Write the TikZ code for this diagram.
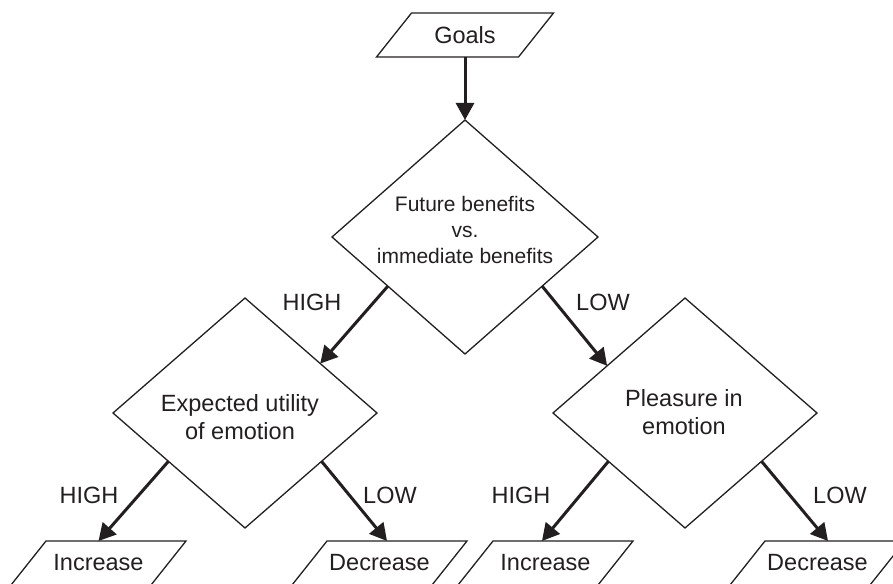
\documentclass[tikz,border=0pt]{standalone}
\usepackage{fontspec}
\setmainfont{Liberation Sans}
\usetikzlibrary{shapes.geometric,arrows.meta,calc}
\definecolor{ink}{HTML}{231F20}
\begin{document}
\begin{tikzpicture}[x=1pt,y=-1pt,
  every node/.style={text=ink},
  mainfont/.style={font=\fontsize{23.5}{28.5}\selectfont},
  dia/.style={draw=ink, line width=1.3pt, diamond, inner sep=0pt, outer sep=0pt},
  bigdia/.style={dia, minimum width=266pt, minimum height=234pt},
  smalldia/.style={dia, minimum width=264pt, minimum height=230pt},
  diatext/.style={align=center, inner sep=0pt},
  paratext/.style={mainfont, minimum width=107pt, minimum height=44pt, inner sep=0pt, outer sep=0pt},
  box/.style={draw=ink, line width=1.3pt, line join=miter},
  lbl/.style={mainfont, inner sep=0pt},
  arr/.style={draw=ink, line width=3pt, -{Triangle[length=17pt,width=18pt]}}
]
\useasboundingbox (0,0) rectangle (893,583);
\clip (0,0) rectangle (893,583);

% Goals
\node[paratext] (goals) at (465,35) {Goals};
\draw[box] (goals.north west) -- ([xshift=35pt]goals.north east) -- (goals.south east) -- ([xshift=-35pt]goals.south west) -- cycle;

% diamonds
\node[bigdia] (d1) at (465,237) {};
\node[diatext, font=\fontsize{21}{26}\selectfont] (d1t) at (465,230) {Future benefits\\vs.\\immediate benefits};
\node[smalldia] (d2) at (245,413) {};
\node[diatext, mainfont] (d2t) at (240,417) {Expected utility\\of emotion};
\node[smalldia] (d3) at (685,413) {};
\node[diatext, mainfont] (d3t) at (684,412) {Pleasure in\\emotion};

% bottom boxes
\node[paratext, minimum width=105pt] (inc1) at (98.5,563) {Increase};
\node[paratext, minimum width=105pt] (dec1) at (379.5,563) {Decrease};
\node[paratext, minimum width=105pt] (inc2) at (545.5,563) {Increase};
\node[paratext, minimum width=105pt] (dec2) at (817.5,563) {Decrease};
\foreach \b in {inc1,dec1,inc2,dec2}{
  \draw[box] (\b.north west) -- ([xshift=35pt]\b.north east) -- (\b.south east) -- ([xshift=-35pt]\b.south west) -- cycle;
}

% connectors
\draw[arr] (goals.south) -- (d1.north);
\draw[arr] ($(d1.west)!0.42!(d1.south)$) -- ($(d2.north)!0.57!(d2.east)$);
\draw[arr] ($(d1.east)!0.42!(d1.south)$) -- ($(d3.west)!0.41!(d3.north)$);
\draw[arr] ($(d2.west)!0.42!(d2.south)$) -- (inc1.north);
\draw[arr] ($(d2.south)!0.58!(d2.east)$) -- ([xshift=7.5pt]dec1.north);
\draw[arr] ($(d3.west)!0.42!(d3.south)$) -- ([xshift=-3.5pt]inc2.north);
\draw[arr] ($(d3.south)!0.58!(d3.east)$) -- ([xshift=10.5pt]dec2.north);

% labels
\node[lbl] (l1) at (312,302) {HIGH};
\node[lbl] (l2) at (603,302) {LOW};
\node[lbl] (l3) at (89,495) {HIGH};
\node[lbl] (l4) at (390,495) {LOW};
\node[lbl] (l5) at (521,495) {HIGH};
\node[lbl] (l6) at (840,495) {LOW};
\end{tikzpicture}
\end{document}
